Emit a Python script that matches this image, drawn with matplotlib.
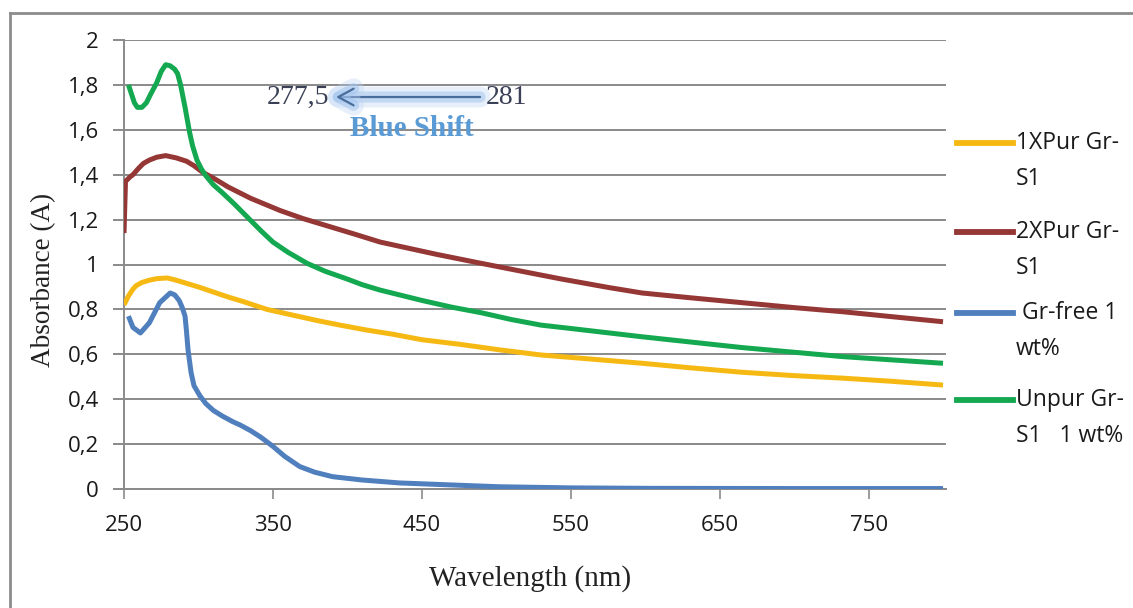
import matplotlib
matplotlib.use("Agg")
import matplotlib.pyplot as plt
import matplotlib.patheffects as pe
from matplotlib.lines import Line2D
from matplotlib.ticker import FuncFormatter

# Absorption spectra (wavelength in nm, absorbance in A)
wl_1xpur = [250, 253, 256, 258, 262, 267, 272, 279, 284, 290, 295, 300, 312, 320, 330,
            346, 363, 380, 395, 413, 430, 450, 475, 502, 530, 565, 598, 630, 665, 700,
            732, 765, 800]
abs_1xpur = [0.82, 0.86, 0.89, 0.905, 0.92, 0.93, 0.937, 0.94, 0.932, 0.92, 0.91, 0.90,
             0.873, 0.855, 0.835, 0.80, 0.775, 0.75, 0.73, 0.708, 0.69, 0.665, 0.645,
             0.62, 0.597, 0.578, 0.56, 0.54, 0.52, 0.505, 0.494, 0.48, 0.463]

wl_2xpur = [250, 251, 254, 256, 260, 263, 267, 272, 278, 285, 292, 297, 303, 310, 320,
            335, 355, 370, 390, 405, 422, 460, 490, 530, 544, 575, 598, 630, 665, 700,
            732, 765, 800]
abs_2xpur = [1.14, 1.37, 1.39, 1.40, 1.43, 1.45, 1.465, 1.478, 1.485, 1.475, 1.46, 1.44,
             1.41, 1.385, 1.345, 1.295, 1.24, 1.205, 1.165, 1.135, 1.10, 1.045, 1.005,
             0.953, 0.935, 0.898, 0.873, 0.852, 0.83, 0.808, 0.79, 0.768, 0.745]

wl_grfree = [253, 256, 261, 267, 274, 281, 284, 287, 289, 291, 292, 293, 295, 297, 301,
             305, 310, 316, 323, 328, 335, 342, 350, 358, 368, 378, 390, 410, 435, 470,
             502, 550, 600, 700, 800]
abs_grfree = [0.77, 0.72, 0.695, 0.74, 0.83, 0.873, 0.865, 0.84, 0.81, 0.77, 0.70, 0.62,
              0.52, 0.46, 0.415, 0.38, 0.35, 0.325, 0.30, 0.285, 0.26, 0.23, 0.19, 0.145,
              0.10, 0.075, 0.055, 0.04, 0.027, 0.018, 0.01, 0.005, 0.003, 0.002, 0.002]

wl_unpur = [253, 255, 257, 259, 262, 265, 268, 272, 275, 278, 281, 284, 286, 288, 291,
            294, 296, 299, 302, 305, 310, 316, 324, 333, 342, 350, 360, 373, 385, 400,
            410, 422, 450, 470, 490, 510, 530, 550, 598, 665, 732, 800]
abs_unpur = [1.80, 1.76, 1.72, 1.70, 1.70, 1.72, 1.76, 1.81, 1.86, 1.89, 1.885, 1.87,
             1.85, 1.80, 1.70, 1.59, 1.53, 1.465, 1.425, 1.395, 1.355, 1.32, 1.27, 1.21,
             1.15, 1.10, 1.055, 1.005, 0.97, 0.935, 0.91, 0.886, 0.84, 0.81, 0.785,
             0.755, 0.73, 0.715, 0.678, 0.63, 0.59, 0.56]

series_labels = ["1XPur Gr-\nS1", "2XPur Gr-\nS1", " Gr-free 1\nwt%", "Unpur Gr-\nS1   1 wt%"]
series_colors = ["#f6b914", "#953735", "#4f7fbd", "#14a850"]

x_ticks = [250, 350, 450, 550, 650, 750]
y_ticks = [0, 0.2, 0.4, 0.6, 0.8, 1.0, 1.2, 1.4, 1.6, 1.8, 2.0]

peak_new, peak_old = 277.5, 281

tick_font = "Open Sans"
serif_font = "Liberation Serif"

fig = plt.figure(figsize=(11.33, 6.08), dpi=100)
ax = fig.add_axes([124 / 1133, 1 - 489 / 608, (946 - 124) / 1133, (489 - 40) / 608])

series = [(wl_1xpur, abs_1xpur), (wl_2xpur, abs_2xpur),
          (wl_grfree, abs_grfree), (wl_unpur, abs_unpur)]
order = [2, 0, 1, 3]
for i in order:
    x, y = series[i]
    ax.plot(x, y, color=series_colors[i], lw=3.6, solid_capstyle="butt",
            solid_joinstyle="round", zorder=3 + i)

ax.set_xlim(250, 802)
ax.set_ylim(0, 2)
ax.set_xticks(x_ticks)
ax.set_yticks(y_ticks)
ax.yaxis.set_major_formatter(FuncFormatter(lambda v, p: f"{v:g}".replace(".", ",")))
ax.grid(axis="y", color="#8a8a8a", lw=1.4, zorder=1)
ax.set_axisbelow(True)
for s in ["top", "right"]:
    ax.spines[s].set_visible(False)
ax.spines["left"].set_color("#8a8a8a")
ax.spines["left"].set_linewidth(1.4)
ax.spines["bottom"].set_color("#8a8a8a")
ax.spines["bottom"].set_linewidth(1.4)
ax.tick_params(axis="y", length=8, width=1.4, color="#8a8a8a", pad=10,
               labelsize=16, labelcolor="#1a1a1a")
ax.tick_params(axis="x", length=7, width=1.2, color="#8a8a8a", pad=12,
               labelsize=16, labelcolor="#1a1a1a")
for lab in ax.get_xticklabels() + ax.get_yticklabels():
    lab.set_family(tick_font)

ax.set_ylabel("Absorbance (A)", family=serif_font, fontsize=19.5, color="#222222")
ax.yaxis.set_label_coords((56 - 124) / 822, (489 - 280) / 449)
ax.set_xlabel("Wavelength (nm)", family=serif_font, fontsize=21, color="#222222")
ax.xaxis.set_label_coords((530 - 124) / 822, (489 - 565) / 449)

# Blue-shift annotation
ann_y = 1.746
ax.annotate("", xy=(peak_new + 113, ann_y), xytext=(peak_old + 210, ann_y),
            arrowprops=dict(arrowstyle="->,head_length=0.55,head_width=0.3",
                            mutation_scale=20, color="#4a6e9c", lw=1.6,
                            path_effects=[pe.Stroke(linewidth=15, foreground="#bcd5f3",
                                                    alpha=0.35),
                                          pe.Stroke(linewidth=8, foreground="#9fc2ee",
                                                    alpha=0.5),
                                          pe.Normal()]),
            zorder=8)
ax.text(peak_new + 110, ann_y, f"{peak_new:g}".replace(".", ","), ha="right",
        va="center", family=serif_font, fontsize=20, color="#3a4055", zorder=9)
ax.text(peak_old + 212, ann_y, f"{peak_old:g}", ha="left", va="center",
        family=serif_font, fontsize=20, color="#3a4055", zorder=9)
ax.text(443, 1.605, "Blue Shift", ha="center", va="center", family=serif_font,
        fontsize=21, fontweight="bold", color="#5b9bd5", zorder=9)

# Legend drawn at the right of the plot area
leg_y = [143, 232, 313, 400]
for lab, col, yp in zip(series_labels, series_colors, leg_y):
    yf = 1 - yp / 608
    fig.add_artist(Line2D([957 / 1133, 1013 / 1133], [yf, yf], color=col, lw=4.2,
                          transform=fig.transFigure))
    top, bottom = lab.split("\n")
    fig.text(1016 / 1133, yf, top, ha="left", va="center", family=tick_font,
             fontsize=16.5, color="#1a1a1a")
    fig.text(1016 / 1133, 1 - (yp + 36) / 608, bottom, ha="left", va="center",
             family=tick_font, fontsize=16.5, color="#1a1a1a")

# Outer chart frame
frame_kw = dict(color="#8c8c8c", lw=2.0, transform=fig.transFigure)
fig.add_artist(Line2D([10 / 1133, 1.0], [1 - 13 / 608, 1 - 13 / 608], **frame_kw))
fig.add_artist(Line2D([10 / 1133, 10 / 1133], [0.0, 1 - 13 / 608], **frame_kw))

fig.savefig("out.png", dpi=100)
